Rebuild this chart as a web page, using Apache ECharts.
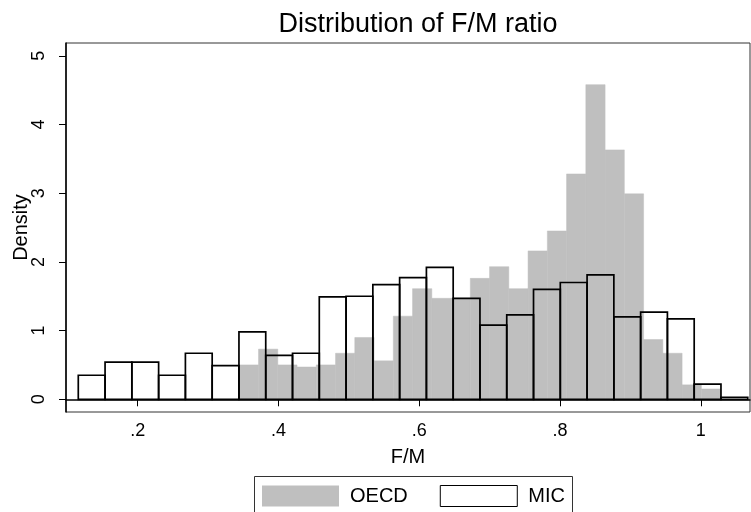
<!DOCTYPE html>
<html>
<head>
<meta charset="utf-8">
<script src="https://cdn.jsdelivr.net/npm/echarts@6/dist/echarts.min.js"></script>
<style>
  html, body { margin: 0; padding: 0; background: #fff; }
  #chart { width: 751px; height: 512px; }
</style>
</head>
<body>
<div id="chart"></div>
<script>
// histogram bins: first left edge, bin width, densities
var oecdStart = 0.3443;
var oecdWidth = 0.02735;
var oecdDensity = [0.50, 0.73, 0.50, 0.47, 0.50, 0.67, 0.90, 0.56, 1.21, 1.61,
                   1.47, 1.47, 1.76, 1.93, 1.61, 2.16, 2.45, 3.28, 4.58, 3.63,
                   2.99, 0.87, 0.67, 0.21, 0.15];

var micStart = 0.1156;
var micWidth = 0.03804;
var micDensity = [0.35, 0.54, 0.54, 0.35, 0.67, 0.49, 0.98, 0.64, 0.67, 1.49,
                  1.50, 1.67, 1.77, 1.92, 1.47, 1.08, 1.23, 1.60, 1.70, 1.81,
                  1.20, 1.27, 1.17, 0.22, 0.03];

var xTicks = [0.2, 0.4, 0.6, 0.8, 1];
var yTicks = [0, 1, 2, 3, 4, 5];

var font = 'Liberation Sans, Arial, Helvetica, sans-serif';

function bins(start, width, dens) {
    return dens.map(function (d, i) {
        return [start + i * width, start + (i + 1) * width, d];
    });
}

function barRenderer(style) {
    return function (params, api) {
        var top = api.coord([api.value(0), api.value(2)]);
        var bot = api.coord([api.value(1), 0]);
        return {
            type: 'rect',
            shape: { x: top[0], y: top[1], width: bot[0] - top[0], height: bot[1] - top[1] },
            style: style
        };
    };
}

var myChart = echarts.init(document.getElementById('chart'));
var option = {
    backgroundColor: '#fff',
    animation: false,
    textStyle: { fontFamily: font },
    title: {
        text: 'Distribution of F/M ratio',
        left: 413,
        textAlign: 'center',
        top: 6,
        textStyle: { fontSize: 27, fontWeight: 'normal', color: '#000', fontFamily: font }
    },
    grid: {
        left: 66, right: 1, top: 43, bottom: 100,
        outerBoundsMode: 'none',
        containLabel: false,
        show: true, borderColor: '#333', borderWidth: 1
    },
    // legend frame, open at the bottom edge of the picture
    graphic: [{
        type: 'rect',
        shape: { x: 254.5, y: 476.5, width: 318, height: 60 },
        style: { fill: 'none', stroke: '#333', lineWidth: 1 },
        z: 0
    }],
    legend: {
        left: 254, top: 477,
        padding: [8, 10, 8, 8],
        itemWidth: 77, itemHeight: 21, itemGap: 32,
        icon: 'rect',
        textStyle: { fontSize: 20, color: '#000', fontFamily: font, padding: [0, 0, 0, 6] },
        data: [
            { name: 'OECD', itemStyle: { color: '#bfbfbf', borderWidth: 0 } },
            { name: 'MIC', itemStyle: { color: '#fff', borderColor: '#000', borderWidth: 1 } }
        ]
    },
    xAxis: {
        type: 'value',
        min: 0.09815, max: 1.0698,
        name: 'F/M', nameLocation: 'middle', nameGap: 35, nameMoveOverlap: false,
        nameTextStyle: { fontSize: 20, color: '#000', fontFamily: font },
        axisLine: { lineStyle: { color: '#000', width: 1.5 } },
        axisTick: { length: 7, customValues: xTicks, lineStyle: { color: '#000' } },
        axisLabel: {
            customValues: xTicks, fontSize: 18, color: '#000', margin: 10,
            formatter: function (v) { return String(v).replace(/^0/, ''); }
        },
        splitLine: { show: false }
    },
    yAxis: {
        type: 'value',
        min: -0.185, max: 5.186,
        name: 'Density', nameLocation: 'middle', nameGap: 35, nameMoveOverlap: false,
        nameTextStyle: { fontSize: 20, color: '#000', fontFamily: font },
        axisLine: { show: true, lineStyle: { color: '#000', width: 1.5 } },
        axisTick: { show: true, length: 7, customValues: yTicks, lineStyle: { color: '#000' } },
        axisLabel: { customValues: yTicks, fontSize: 18, color: '#000', rotate: 90, margin: 18 },
        splitLine: { show: false }
    },
    series: [
        {
            name: 'OECD',
            type: 'custom',
            itemStyle: { color: '#bfbfbf' },
            renderItem: barRenderer({ fill: '#bfbfbf', stroke: '#bfbfbf', lineWidth: 0.5 }),
            encode: { x: [0, 1], y: 2 },
            data: bins(oecdStart, oecdWidth, oecdDensity)
        },
        {
            name: 'MIC',
            type: 'custom',
            itemStyle: { color: '#fff', borderColor: '#000' },
            renderItem: barRenderer({ fill: 'none', stroke: '#000', lineWidth: 1.7 }),
            encode: { x: [0, 1], y: 2 },
            data: bins(micStart, micWidth, micDensity)
        }
    ]
};
myChart.setOption(option);
</script>
</body>
</html>
